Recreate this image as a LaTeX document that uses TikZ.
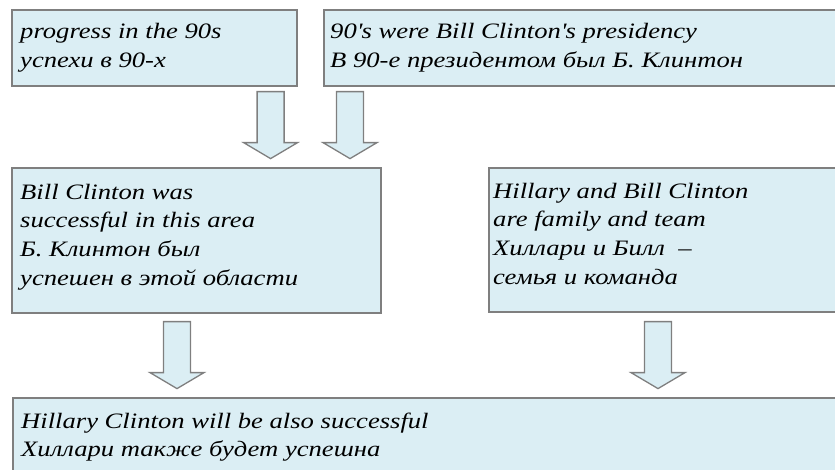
\documentclass[tikz,border=0pt]{standalone}
\usepackage{fontspec}
\setmainfont{Liberation Serif}[FakeStretch=1.21]
\usetikzlibrary{calc}

\definecolor{boxfill}{HTML}{DBEEF4}
\definecolor{boxline}{HTML}{7F7F7F}

\tikzset{
  box/.style={draw=boxline, line width=1.6pt, fill=boxfill, rectangle, inner sep=0pt, anchor=north west},
  txt/.style={inner sep=0pt, anchor=north west, align=left, font=\fontsize{22}{28.7}\selectfont\itshape},
  blockarrow/.style={draw=boxline, line width=1.3pt, fill=boxfill, line join=miter},
  fatarrow/.pic={\draw[blockarrow] (-13.5,0) -- (13.5,0) -- (13.5,51) -- (27,51) -- (0,67) -- (-27,51) -- (-13.5,51) -- cycle;}
}

\begin{document}
\begin{tikzpicture}[x=1pt, y=-1pt]
        % Fix the page to the size of the slide
        \useasboundingbox (0,0) rectangle (835,469);
        
        % Draw the boxes
        \node[box, minimum width=285pt, minimum height=76pt] (nineties) at (11,9) {};
        \node[box, minimum width=540pt, minimum height=76pt] (presidency) at (323,9) {};
        \node[box, minimum width=369pt, minimum height=145pt] (bill) at (11,167) {};
        \node[box, minimum width=360pt, minimum height=144pt] (family) at (488,167) {};
        \node[box, minimum width=850pt, minimum height=90pt] (hillary) at (12,397) {};
        
        % Add the texts
        \node[txt] (t-nineties) at ($(nineties.north west)+(9,9.5)$) {\strut progress in the 90s\\ успехи в 90-х};
        \node[txt] (t-presidency) at ($(presidency.north west)+(7,9.5)$) {\strut 90\textquotesingle s were Bill Clinton\textquotesingle s presidency\\ В 90-е президентом был Б. Клинтон};
        \node[txt] (t-bill) at ($(bill.north west)+(9,12)$) {\strut Bill Clinton was\\ successful in this area\\ Б. Клинтон был\\ успешен в этой области};
        \node[txt] (t-family) at ($(family.north west)+(5,11)$) {\strut Hillary and Bill Clinton\\ are family and team\\ Хиллари и Билл~~–\\ семья и команда};
        \node[txt] (t-hillary) at ($(hillary.north west)+(9,11)$) {\strut Hillary Clinton will be also successful\\ Хиллари также будет успешна};
        
        % Draw the block arrows
        \pic at ($(nineties.south east)+(-27,5)$) {fatarrow};
        \pic at ($(presidency.south west)+(27,5)$) {fatarrow};
        \pic at ($(bill.south west)+(166,8)$) {fatarrow};
        \pic at ($(family.south west)+(170,9)$) {fatarrow};
    \end{tikzpicture}
\end{document}
